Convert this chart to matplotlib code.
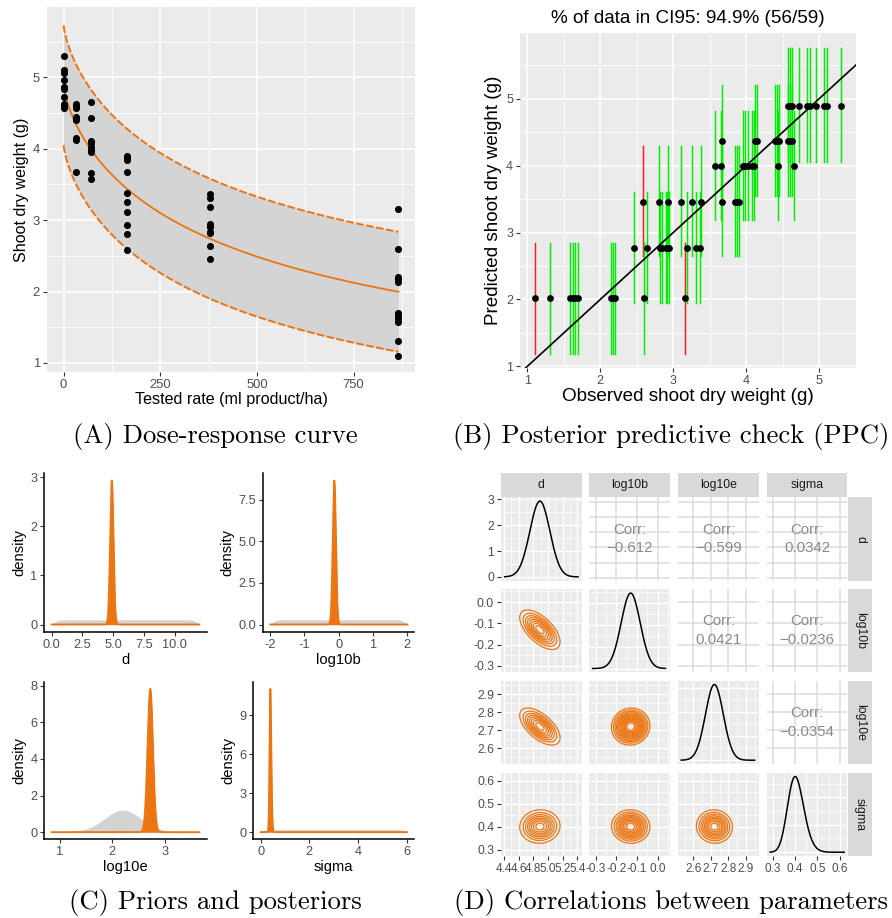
import numpy as np
import matplotlib.pyplot as plt
from matplotlib.ticker import MultipleLocator, FixedLocator, FormatStrFormatter

plt.rcParams['font.family'] = ['Liberation Sans', 'DejaVu Sans']
plt.rcParams['axes.unicode_minus'] = True

W, H = 892, 918
fig = plt.figure(figsize=(W / 100, H / 100), dpi=100)

ORANGE = '#EC7411'
GREY_BG = '#EBEBEB'
TICK_TXT = '#4D4D4D'

# ---------------- data ----------------
dose_levels = [0, 32, 72, 164, 378, 866]
weight_obs = [
    [4.57, 4.60, 4.63, 4.72, 4.83, 4.87, 4.96, 5.06, 5.10, 5.30],
    [3.67, 4.12, 4.15, 4.40, 4.42, 4.45, 4.57, 4.60, 4.62],
    [3.57, 3.66, 3.95, 3.98, 4.02, 4.08, 4.11, 4.43, 4.65],
    [2.58, 2.81, 2.93, 3.11, 3.25, 3.38, 3.67, 3.84, 3.87, 3.90],
    [2.46, 2.64, 2.82, 2.84, 2.90, 2.92, 2.94, 3.19, 3.31, 3.36],
    [1.10, 1.31, 1.58, 1.62, 1.66, 1.70, 2.14, 2.17, 2.20, 2.60, 3.16],
]
pred_mean = [4.89, 4.37, 4.00, 3.46, 2.77, 2.02]
pred_lo = [4.05, 3.55, 3.19, 2.65, 1.95, 1.19]
pred_hi = [5.75, 5.21, 4.81, 4.29, 3.60, 2.84]

# fitted log-logistic model (posterior medians) and predictive band half-width
fit_d, fit_log10b, fit_log10e, band_half = 4.89, -0.13, 2.72, 0.84

par_names = ['d', 'log10b', 'log10e', 'sigma']
post_center = [4.89, -0.13, 2.72, 0.40]
post_sd = [0.136, 0.046, 0.051, 0.036]
corr_vals = {(0, 1): -0.612, (0, 2): -0.599, (0, 3): 0.0342,
             (1, 2): 0.0421, (1, 3): -0.0236, (2, 3): -0.0354}
corr_labels = {(0, 1): '\u22120.612', (0, 2): '\u22120.599', (0, 3): '0.0342',
               (1, 2): '0.0421', (1, 3): '\u22120.0236', (2, 3): '\u22120.0354'}

prior_range = [(0, 12), (-2, 2), (0.85, 3.65), (0, 6)]
prior_unif_height = [1 / 12, 1 / 4, None, 1 / 6]
prior_log10e_mean, prior_log10e_sd = 2.2, 0.34


def px_axes(l, t, r, b):
    return fig.add_axes([l / W, 1 - b / H, (r - l) / W, (b - t) / H])


def gg_panel(ax, xmaj, xmin, ymaj, ymin, tsize):
    ax.set_facecolor(GREY_BG)
    for s in ax.spines.values():
        s.set_visible(False)
    ax.xaxis.set_major_locator(MultipleLocator(xmaj))
    ax.xaxis.set_minor_locator(MultipleLocator(xmin))
    ax.yaxis.set_major_locator(MultipleLocator(ymaj))
    ax.yaxis.set_minor_locator(MultipleLocator(ymin))
    ax.grid(which='major', color='white', lw=1.1)
    ax.grid(which='minor', color='white', lw=0.55)
    ax.set_axisbelow(True)
    ax.tick_params(which='major', length=3, width=0.8, color='#333333',
                   labelcolor=TICK_TXT, labelsize=tsize, pad=2)
    ax.tick_params(which='minor', length=0)


def npdf(x, m, s):
    return np.exp(-0.5 * ((x - m) / s) ** 2) / (s * np.sqrt(2 * np.pi))


def lnpdf(x, med, s):
    x = np.clip(x, 1e-6, None)
    return np.exp(-0.5 * (np.log(x / med) / s) ** 2) / (x * s * np.sqrt(2 * np.pi))


# ---------------- (A) dose-response ----------------
axA = px_axes(47, 7, 415, 372)
gg_panel(axA, 250, 125, 1, 0.5, 9.4)
xs = np.linspace(0.01, dose_levels[-1], 400)
mid = fit_d / (1 + (xs / 10 ** fit_log10e) ** (10 ** fit_log10b))
axA.fill_between(xs, mid - band_half, mid + band_half, color='#D4D4D4', lw=0)
axA.plot(xs, mid + band_half, color=ORANGE, lw=1.4, ls=(0, (4, 1.2)))
axA.plot(xs, mid - band_half, color=ORANGE, lw=1.4, ls=(0, (4, 1.2)))
axA.plot(xs, mid, color=ORANGE, lw=1.3)
for dz, obs in zip(dose_levels, weight_obs):
    axA.scatter([dz] * len(obs), obs, s=26, color='black', zorder=5, lw=0)
axA.set_xlim(-43, 909)
axA.set_ylim(0.873, 5.985)
axA.set_xlabel('Tested rate (ml product/ha)', fontsize=11.6, labelpad=1)
axA.set_ylabel('Shoot dry weight (g)', fontsize=11.6, labelpad=2.5)

# ---------------- (B) PPC ----------------
axB = px_axes(520, 33, 856, 368)
gg_panel(axB, 1, 0.5, 1, 0.5, 9)
inside = 0
total = 0
for pm, lo, hi, obs in zip(pred_mean, pred_lo, pred_hi, weight_obs):
    for o in obs:
        ok = lo <= o <= hi
        inside += ok
        total += 1
        axB.plot([o, o], [lo, hi], color='#00EE00' if ok else '#FF1A1A', lw=1.05, zorder=3)
for pm, obs in zip(pred_mean, weight_obs):
    axB.scatter(obs, [pm] * len(obs), s=24, color='black', zorder=5, lw=0)
axB.axline((0, 0), (1, 1), color='black', lw=1.2, zorder=4)
axB.set_xlim(0.9, 5.503)
axB.set_ylim(0.976, 5.98)
axB.set_xlabel('Observed shoot dry weight (g)', fontsize=13.6, labelpad=1)
axB.set_ylabel('Predicted shoot dry weight (g)', fontsize=13.6, labelpad=3)
axB.set_title('%% of data in CI95: %.1f%% (%d/%d)' % (100 * inside / total, inside, total),
              fontsize=13.6, pad=7)

# ---------------- (C) priors and posteriors ----------------
c_boxes = [(44.3, 473.3, 206.7, 631.7), (263.3, 473.3, 414.3, 631.7),
           (44.3, 681.7, 206.7, 839.3), (253.3, 681.7, 414.3, 839.3)]
c_xticks = [[0, 2.5, 5, 7.5, 10], [-2, -1, 0, 1, 2], [1, 2, 3], [0, 2, 4, 6]]
c_yticks = [[0, 1, 2, 3], [0, 2.5, 5, 7.5], [0, 2, 4, 6, 8], [0, 3, 6, 9]]
c_xfmt = ['%.1f', '%d', '%d', '%d']
c_yfmt = ['%d', '%.1f', '%d', '%d']
for i, box in enumerate(c_boxes):
    ax = px_axes(*box)
    a, b = prior_range[i]
    x = np.linspace(a, b, 1500)
    if prior_unif_height[i] is not None:
        edge = (b - a) * 0.012
        prior = prior_unif_height[i] * (1 / (1 + np.exp(-(x - a - 2 * edge) / edge))) * \
            (1 / (1 + np.exp((x - b + 2 * edge) / edge)))
    else:
        prior = npdf(x, prior_log10e_mean, prior_log10e_sd)
    if par_names[i] == 'sigma':
        post = lnpdf(x, 0.403, 0.09)
    else:
        post = npdf(x, post_center[i], post_sd[i])
    ax.fill_between(x, 0, prior, color='#D3D3D3', lw=0.8, edgecolor='#D3D3D3')
    ax.fill_between(x, 0, post, color=ORANGE, lw=0)
    ax.plot(x, post, color=ORANGE, lw=1.3)
    pk = max(post.max(), prior.max())
    ax.set_ylim(-0.05 * pk, 1.05 * pk)
    r = b - a
    ax.set_xlim(a - 0.05 * r, b + 0.05 * r)
    for s in ['top', 'right']:
        ax.spines[s].set_visible(False)
    for s in ['left', 'bottom']:
        ax.spines[s].set_linewidth(1.1)
    ax.xaxis.set_major_locator(FixedLocator(c_xticks[i]))
    ax.yaxis.set_major_locator(FixedLocator(c_yticks[i]))
    ax.xaxis.set_major_formatter(FormatStrFormatter(c_xfmt[i]))
    ax.yaxis.set_major_formatter(FormatStrFormatter(c_yfmt[i]))
    ax.tick_params(length=3, width=0.8, color='#333333', labelcolor=TICK_TXT,
                   labelsize=9.2, pad=2)
    ax.set_xlabel(par_names[i], fontsize=10.6, labelpad=1.5)
    ax.set_ylabel('density', fontsize=10.6, labelpad=3)

# ---------------- (D) pairs plot ----------------
col_x = [(501, 581.7), (589.3, 670), (678, 759), (766.7, 847.3)]
row_y = [(497.3, 580.7), (589.3, 672.3), (680.7, 764), (772.7, 856)]
lims = [(4.36, 5.46), (-0.33, 0.06), (2.512, 2.975), (0.272, 0.634)]
maj = [0.2, 0.1, 0.1, 0.1]
data_range = [(4.41, 5.41), (-0.314, 0.038), (2.53, 2.95), (0.287, 0.62)]
n_levels = {(1, 0): 8, (2, 0): 8, (2, 1): 13, (3, 0): 8, (3, 1): 10, (3, 2): 9}


def dens1d(i, x):
    if par_names[i] == 'sigma':
        return lnpdf(x, 0.403, 0.09)
    return npdf(x, post_center[i], post_sd[i])


for r in range(4):
    for c in range(4):
        (l, rr), (t, b) = col_x[c], row_y[r]
        ax = px_axes(l, t, rr, b)
        for s in ax.spines.values():
            s.set_visible(False)
        ax.set_xlim(*lims[c])
        ax.xaxis.set_major_locator(MultipleLocator(maj[c]))
        ax.xaxis.set_minor_locator(MultipleLocator(maj[c] / 2))
        if r == c:
            ax.set_facecolor(GREY_BG)
            x = np.linspace(*data_range[c], 300)
            y = dens1d(c, x)
            ax.plot(x, y, color='black', lw=1.1)
            ax.set_ylim(-0.05 * y.max(), 1.05 * y.max())
            if c == 0:
                ax.yaxis.set_major_locator(MultipleLocator(1))
                ax.yaxis.set_minor_locator(MultipleLocator(0.5))
            else:
                ax.yaxis.set_major_locator(MultipleLocator([2.5, 2.5, 4][c - 1]))
                ax.yaxis.set_minor_locator(MultipleLocator([1.25, 1.25, 2][c - 1]))
            ax.grid(which='major', color='white', lw=1.0)
            ax.grid(which='minor', color='white', lw=0.5)
        elif r > c:
            ax.set_facecolor(GREY_BG)
            ax.set_ylim(*lims[r])
            ax.yaxis.set_major_locator(MultipleLocator(maj[r]))
            ax.yaxis.set_minor_locator(MultipleLocator(maj[r] / 2))
            ax.grid(which='major', color='white', lw=1.0)
            ax.grid(which='minor', color='white', lw=0.5)
            gx = np.linspace(*lims[c], 200)
            gy = np.linspace(*lims[r], 200)
            X, Y = np.meshgrid(gx, gy)
            zx = (X - post_center[c]) / post_sd[c]
            zy = (Y - post_center[r]) / post_sd[r]
            rho = corr_vals[(c, r)]
            Z = np.exp(-(zx ** 2 - 2 * rho * zx * zy + zy ** 2) / (2 * (1 - rho ** 2)))
            lv = np.linspace(0.13, 0.92, n_levels[(r, c)])
            ax.contour(X, Y, Z, levels=lv, colors=ORANGE, linewidths=0.9)
        else:
            ax.set_facecolor('white')
            ax.set_ylim(*lims[r])
            ax.yaxis.set_major_locator(MultipleLocator(maj[r]))
            ax.grid(which='major', color='#DCDCDC', lw=1.1)
            ax.text(0.5, 0.5, 'Corr:\n' + corr_labels[(r, c)], transform=ax.transAxes,
                    ha='center', va='center', fontsize=10.8, color='#8A8A8A',
                    linespacing=1.45)
        ax.set_axisbelow(True)
        ax.tick_params(which='major', length=3, width=0.8, color='#333333',
                       labelcolor=TICK_TXT, labelsize=8.8, pad=2)
        ax.tick_params(axis='x', labelsize=8.5)
        ax.tick_params(which='minor', length=0)
        if c != 0:
            ax.tick_params(axis='y', which='both', left=False, labelleft=False)
        if r != 3:
            ax.tick_params(axis='x', which='both', bottom=False, labelbottom=False)
        if c == 0 and r == 0:
            ax.yaxis.set_major_formatter(FormatStrFormatter('%d'))
        elif c == 0:
            ax.yaxis.set_major_formatter(FormatStrFormatter('%.1f'))
        if r == 3:
            ax.xaxis.set_major_formatter(FormatStrFormatter('%.1f'))

# strips
for c in range(4):
    l, rr = col_x[c]
    sa = px_axes(l, 473.3, rr, 496.7)
    sa.set_facecolor('#D9D9D9')
    sa.set_xticks([]); sa.set_yticks([])
    for s in sa.spines.values():
        s.set_visible(False)
    sa.text(0.5, 0.5, par_names[c], ha='center', va='center', fontsize=8.8,
            color='#1A1A1A', transform=sa.transAxes)
for r in range(4):
    t, b = row_y[r]
    sa = px_axes(848.3, t, 871.7, b)
    sa.set_facecolor('#D9D9D9')
    sa.set_xticks([]); sa.set_yticks([])
    for s in sa.spines.values():
        s.set_visible(False)
    sa.text(0.5, 0.5, par_names[r], ha='center', va='center', fontsize=8.8,
            color='#1A1A1A', rotation=-90, transform=sa.transAxes)

# ---------------- captions ----------------
captions = ['(A) Dose-response curve', '(B) Posterior predictive check (PPC)',
            '(C) Priors and posteriors', '(D) Correlations between parameters']
cap_pos = [(215, 437), (671, 437), (215, 903), (671, 903)]
for txt, (cx, cy) in zip(captions, cap_pos):
    fig.text(cx / W, 1 - cy / H, txt, ha='center', va='center', fontsize=19.2,
             family='cmr10')

fig.savefig('out.png', dpi=100)
